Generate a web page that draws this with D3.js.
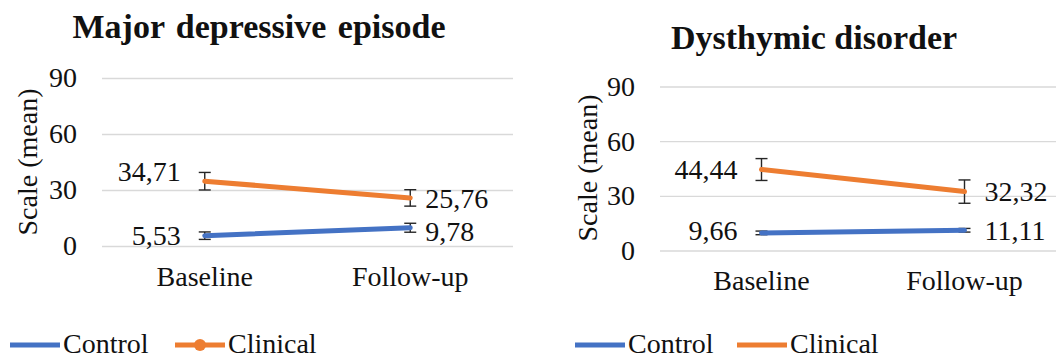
<!DOCTYPE html>
<html>
<head>
<meta charset="utf-8">
<script src="https://cdn.jsdelivr.net/npm/d3@7"></script>
<style>
  html, body { margin: 0; padding: 0; background: #ffffff; }
  svg { display: block; }
  text { font-family: "Liberation Serif", "Times New Roman", serif; fill: #111111; }
</style>
</head>
<body>
<svg id="chart" width="1056" height="358"></svg>
<script>
// Time points and axis ticks shared by both panels
const categories = ["Baseline", "Follow-up"];
const yTicks = [0, 30, 60, 90];
const seriesNames = ["Control", "Clinical"];

// Major depressive episode: means and error-bar half-widths
const majorControl = [5.53, 9.78];
const majorClinical = [34.71, 25.76];
const majorControlErr = [2.0, 2.4];
const majorClinicalErr = [4.7, 4.4];

// Dysthymic disorder: means and error-bar half-widths
const dysControl = [9.66, 11.11];
const dysClinical = [44.44, 32.32];
const dysControlErr = [1.0, 1.0];
const dysClinicalErr = [6.0, 6.4];

const colors = { Control: "#4472C4", Clinical: "#ED7D31" };
const fmt = v => d3.format(".2f")(v).replace(".", ",");
const serif = "'Liberation Serif', 'Times New Roman', serif";

const svg = d3.select("#chart");

const panels = [
  {
    title: "Major depressive episode",
    titleX: 259, titleY: 38, titleWordSpacing: 3,
    x0: 102, x1: 513, yTop: 78, yBottom: 246,
    axisTitleX: 27, axisTitleY: 162,
    labelGapLeft: 24, labelGapRight: 15,
    legendX: 10, legendStep: 165, legendMarker: true,
    series: [
      { name: "Control", values: majorControl, err: majorControlErr, dy: [0, 3] },
      { name: "Clinical", values: majorClinical, err: majorClinicalErr, dy: [-10, 0] }
    ]
  },
  {
    title: "Dysthymic disorder",
    titleX: 814, titleY: 49, titleWordSpacing: 0,
    x0: 660, x1: 1066, yTop: 86.5, yBottom: 250.5,
    axisTitleX: 587, axisTitleY: 168,
    labelGapLeft: 24, labelGapRight: 20,
    legendX: 575, legendStep: 162, legendMarker: false,
    series: [
      { name: "Control", values: dysControl, err: dysControlErr, dy: [-3, 0] },
      { name: "Clinical", values: dysClinical, err: dysClinicalErr, dy: [0, 0] }
    ]
  }
];

panels.forEach(p => {
  const g = svg.append("g");

  const x = d3.scaleBand().domain(categories).range([p.x0, p.x1]);
  const y = d3.scaleLinear().domain([0, 90]).range([p.yBottom, p.yTop]);
  const cx = c => x(c) + x.bandwidth() / 2;

  // Title
  g.append("text")
    .attr("x", p.titleX).attr("y", p.titleY)
    .attr("text-anchor", "middle")
    .style("font-family", serif)
    .style("font-size", "34px").style("font-weight", "bold")
    .style("word-spacing", p.titleWordSpacing + "px")
    .text(p.title);

  // Gridlines + tick labels via a left axis
  const yAxis = d3.axisLeft(y).tickValues(yTicks).tickSize(-(p.x1 - p.x0)).tickPadding(25);
  const ya = g.append("g").attr("transform", `translate(${p.x0},0)`).call(yAxis);
  ya.select(".domain").remove();
  ya.selectAll(".tick line").attr("stroke", "#d9d9d9").attr("stroke-width", 1.3);
  ya.selectAll(".tick text")
    .style("font-family", serif)
    .style("font-size", "28px").attr("fill", "#111111");

  // Category labels
  const xAxis = d3.axisBottom(x).tickSize(0).tickPadding(20);
  const xa = g.append("g").attr("transform", `translate(0,${p.yBottom})`).call(xAxis);
  xa.select(".domain").remove();
  xa.selectAll(".tick text")
    .style("font-family", serif)
    .style("font-size", "28px").attr("fill", "#111111");

  // Axis title
  g.append("text")
    .attr("transform", `translate(${p.axisTitleX},${p.axisTitleY}) rotate(-90)`)
    .attr("text-anchor", "middle").attr("dy", "0.35em")
    .style("font-family", serif)
    .style("font-size", "28px")
    .text("Scale (mean)");

  const line = d3.line().x(d => cx(d.c)).y(d => y(d.v));

  p.series.forEach(s => {
    const pts = categories.map((c, i) => ({ c, v: s.values[i], e: s.err[i], i }));

    // Error bars
    const eb = g.append("g").attr("stroke", "#262626").attr("stroke-width", 1.4).attr("fill", "none");
    pts.forEach(d => {
      const xc = cx(d.c);
      eb.append("line").attr("x1", xc).attr("x2", xc).attr("y1", y(d.v - d.e)).attr("y2", y(d.v + d.e));
      eb.append("line").attr("x1", xc - 6).attr("x2", xc + 6).attr("y1", y(d.v - d.e)).attr("y2", y(d.v - d.e));
      eb.append("line").attr("x1", xc - 6).attr("x2", xc + 6).attr("y1", y(d.v + d.e)).attr("y2", y(d.v + d.e));
    });

    // Series line
    g.append("path").datum(pts)
      .attr("d", line)
      .attr("fill", "none")
      .attr("stroke", colors[s.name])
      .attr("stroke-width", 5)
      .attr("stroke-linecap", "round");

    // Value labels
    pts.forEach(d => {
      const first = d.i === 0;
      g.append("text")
        .attr("x", first ? cx(d.c) - p.labelGapLeft : cx(d.c) + p.labelGapRight)
        .attr("y", y(d.v) + s.dy[d.i])
        .attr("dy", "0.35em")
        .attr("text-anchor", first ? "end" : "start")
        .style("font-family", serif)
        .style("font-size", "28px")
        .text(fmt(d.v));
    });
  });

  // Legend
  const lg = g.append("g").attr("transform", `translate(${p.legendX},345)`);
  seriesNames.forEach((name, i) => {
    const item = lg.append("g").attr("transform", `translate(${i * p.legendStep},0)`);
    item.append("line").attr("x1", 0).attr("x2", 50).attr("y1", 0).attr("y2", 0)
      .attr("stroke", colors[name]).attr("stroke-width", 5);
    if (name === "Clinical" && p.legendMarker) {
      item.append("circle").attr("cx", 25).attr("cy", 0).attr("r", 6).attr("fill", colors[name]);
    }
    item.append("text").attr("x", 53).attr("y", 0).attr("dy", "0.3em")
      .style("font-family", serif)
      .style("font-size", "28px").text(name);
  });
});
</script>
</body>
</html>
